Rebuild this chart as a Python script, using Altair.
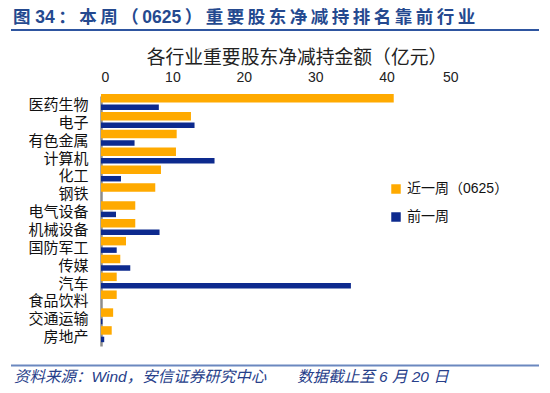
import altair as alt
import pandas as pd

categories = ["医药生物", "电子", "有色金属", "计算机", "化工", "钢铁", "电气设备",
              "机械设备", "国防军工", "传媒", "汽车", "食品饮料", "交通运输", "房地产"]
recent = [41.0, 12.6, 10.6, 10.5, 8.4, 7.6, 4.8, 4.8, 3.5, 2.7, 2.2, 2.2, 1.7, 1.5]
previous = [8.1, 13.1, 4.7, 15.9, 2.8, 0.0, 2.1, 8.2, 2.2, 4.1, 35.0, 0.0, 0.2, 0.45]
series = ["近一周（0625）", "前一周"]
colors = ["#FFAA00", "#0D2A8E"]
x_ticks = [0, 10, 20, 30, 40, 50]

TS = "\u2009"
header_tokens = ["图 34", "：", "本", "周", "（", "0625", "）", "重", "要", "股", "东",
                 "净", "减", "持", "排", "名", "靠", "前", "行", "业"]
header = TS.join(header_tokens)
chart_title = "各行业重要股东净减持金额（亿元）"
footer = "资料来源：Wind，安信证券研究中心\u3000\u3000数据截止至\u00a06\u00a0月\u00a020\u00a0日"

FONT = "Liberation Sans, Noto Sans CJK SC"

rows = []
for c, r, p in zip(categories, recent, previous):
    rows.append({"行业": c, "系列": series[0], "金额": r})
    rows.append({"行业": c, "系列": series[1], "金额": p})
df = pd.DataFrame(rows)

W, H = 357, 250

x_enc = alt.X("金额:Q", scale=alt.Scale(domain=[0, 50], nice=False),
              axis=alt.Axis(orient="top", values=x_ticks, title=None, grid=False,
                            domain=False, ticks=False, labelFontSize=14,
                            labelPadding=12, labelColor="#222222", labelFont=FONT))
y_enc = alt.Y("行业:N", sort=categories,
              scale=alt.Scale(paddingInner=0.2, paddingOuter=0.1),
              axis=alt.Axis(title=None, ticks=False, domainColor="#8c8c8c", domainWidth=2.5,
                            labelFontSize=15, labelPadding=13, labelColor="#111111",
                            labelFont=FONT))
c_enc = alt.Color("系列:N", scale=alt.Scale(domain=series, range=colors),
                  legend=alt.Legend(title=None, orient="none", legendX=288, legendY=86,
                                    symbolType="square", symbolSize=90,
                                    labelFontSize=14, labelFont=FONT,
                                    labelColor="#111111", rowPadding=14,
                                    labelOffset=4))

base = alt.Chart(df)
bars_prev = base.transform_filter(alt.datum["系列"] == series[1]).mark_bar(size=5.5).encode(
    x=x_enc, y=y_enc, color=c_enc, yOffset=alt.value(9.5))
bars_recent = base.transform_filter(alt.datum["系列"] == series[0]).mark_bar(size=8.5).encode(
    x=x_enc, y=y_enc, color=c_enc, yOffset=alt.value(0.5))

def label(txt, x, y, size, color, weight="normal", style="normal", align="left"):
    return alt.Chart(pd.DataFrame({"t": [txt]})).mark_text(
        fontSize=size, color=color, fontWeight=weight, fontStyle=style,
        align=align, baseline="middle", font=FONT,
    ).encode(text="t:N", x=alt.value(x), y=alt.value(y))

def hline(x1, x2, y, color, width):
    return alt.Chart(pd.DataFrame({"a": [0]})).mark_rule(
        color=color, strokeWidth=width
    ).encode(x=alt.value(x1), x2=alt.value(x2), y=alt.value(y))

layers = [
    bars_prev,
    bars_recent,
    label(header, -88, -78, 17.5, "#24498F", weight="bold"),
    hline(-90, 438, -66, "#2E55A0", 2),
    label(chart_title, 196, -38, 18.8, "#222222", align="center"),
    hline(-90, 438, 269.5, "#6B88BF", 2),
    label(footer, -87, 281, 15.5, "#27408A", style="italic"),
]

chart = alt.layer(*layers).properties(
    width=W, height=H,
    padding={"left": 93, "top": 88, "right": 84, "bottom": 39},
    autosize=alt.AutoSizeParams(type="none"),
).configure_view(stroke=None)

chart.save("out.html", embed_options={"renderer": "svg", "actions": False})
